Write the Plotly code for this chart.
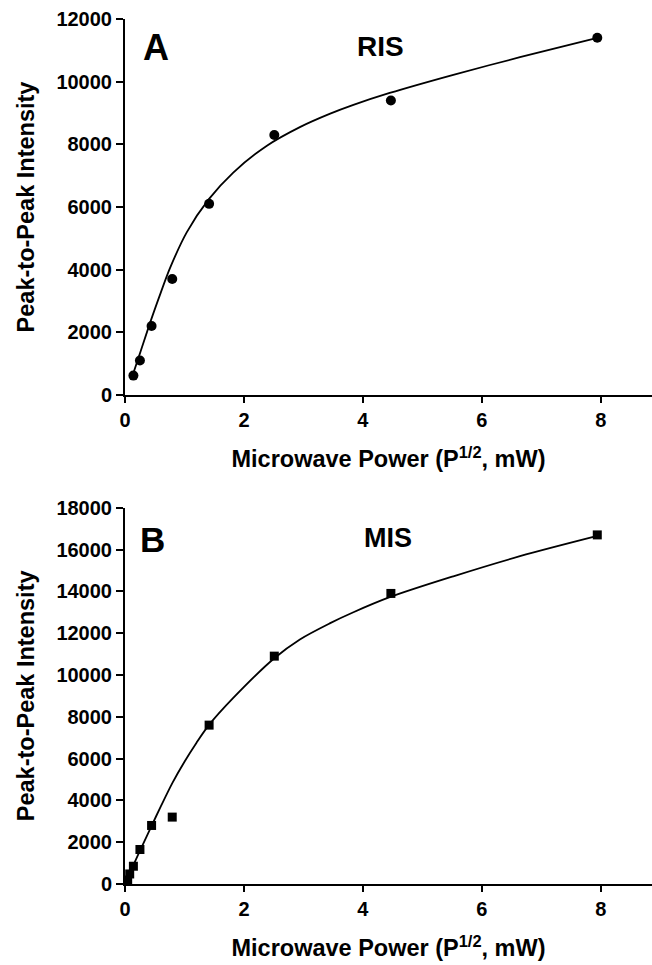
import plotly.graph_objects as go

# Panel A: RIS signal vs. square root of microwave power
ris_power = [0.141, 0.251, 0.447, 0.794, 1.414, 2.51, 4.47, 7.94]
ris_intensity = [620, 1100, 2200, 3700, 6100, 8300, 9400, 11400]
ris_fit_x = [0.141, 0.25, 0.437, 0.6, 0.756, 1.04, 1.41, 1.82, 2.38, 2.94, 3.45, 3.84, 4.45, 5.52, 6.64, 7.94]
ris_fit_y = [700, 1320, 2390, 3260, 4050, 5200, 6250, 7100, 7950, 8550, 8980, 9260, 9640, 10220, 10780, 11400]

# Panel B: MIS signal vs. square root of microwave power
mis_power = [0.045, 0.079, 0.141, 0.251, 0.447, 0.794, 1.414, 2.51, 4.47, 7.94]
mis_intensity = [190, 480, 850, 1650, 2800, 3200, 7600, 10900, 13900, 16700]
mis_fit_x = [0.045, 0.141, 0.25, 0.447, 0.6, 0.8, 1.0, 1.2, 1.41, 1.82, 2.51, 2.94, 3.45, 3.84, 4.45, 5.52, 6.64, 7.94]
mis_fit_y = [290, 900, 1580, 2780, 3700, 4850, 5850, 6750, 7600, 8900, 10800, 11700, 12480, 13000, 13720, 14720, 15680, 16650]

x_ticks = [0, 2, 4, 6, 8]
ris_y_ticks = [0, 2000, 4000, 6000, 8000, 10000, 12000]
mis_y_ticks = [0, 2000, 4000, 6000, 8000, 10000, 12000, 14000, 16000, 18000]

FONT = "Liberation Sans"
BLACK = "#000000"

fig = go.Figure()

fig.add_trace(go.Scatter(x=ris_fit_x, y=ris_fit_y, mode="lines", line=dict(color=BLACK, width=1.8, shape="spline", smoothing=0.9),
                         xaxis="x", yaxis="y", hoverinfo="skip"))
fig.add_trace(go.Scatter(x=ris_power, y=ris_intensity, mode="markers", marker=dict(symbol="circle", size=10, color=BLACK),
                         xaxis="x", yaxis="y"))
fig.add_trace(go.Scatter(x=mis_fit_x, y=mis_fit_y, mode="lines", line=dict(color=BLACK, width=1.8, shape="spline", smoothing=0.9),
                         xaxis="x2", yaxis="y2", hoverinfo="skip"))
fig.add_trace(go.Scatter(x=mis_power, y=mis_intensity, mode="markers", marker=dict(symbol="square", size=9, color=BLACK),
                         xaxis="x2", yaxis="y2"))

x_title = "<b>Microwave Power (P<sup>1/2</sup>, mW)</b>"
y_title = "<b>Peak-to-Peak Intensity</b>"


def bold(values):
    return [f"<b>{v}</b>" for v in values]


def xaxis_style(anchor):
    return dict(
        anchor=anchor, domain=[0, 1], range=[0, 8.86],
        tickmode="array", tickvals=x_ticks, ticktext=bold(x_ticks),
        ticks="outside", ticklen=6, tickwidth=1.5, tickcolor=BLACK,
        showline=True, linewidth=2, linecolor=BLACK, showgrid=False, zeroline=False,
        tickfont=dict(family=FONT, size=20, color=BLACK),
        title=dict(text=x_title, font=dict(family=FONT, size=23.5, color=BLACK), standoff=21),
    )


def yaxis_style(anchor, domain, top, ticks):
    return dict(
        anchor=anchor, domain=domain, range=[0, top],
        tickmode="array", tickvals=ticks, ticktext=bold(ticks),
        ticks="outside", ticklen=7, tickwidth=1.5, tickcolor=BLACK,
        showline=True, linewidth=2, linecolor=BLACK, showgrid=False, zeroline=False,
        tickfont=dict(family=FONT, size=20, color=BLACK),
        title=dict(text=y_title, font=dict(family=FONT, size=23.5, color=BLACK), standoff=15),
    )


fig.update_layout(
    width=652, height=965,
    margin=dict(l=125, r=0, t=19, b=81),
    paper_bgcolor="white", plot_bgcolor="white",
    showlegend=False,
    xaxis=xaxis_style("y"),
    yaxis=yaxis_style("x", [0.5653, 1.0], 12000, ris_y_ticks),
    xaxis2=xaxis_style("y2"),
    yaxis2=yaxis_style("x2", [0.0, 0.435], 18000, mis_y_ticks),
)

labels = [
    ("A", "x", "y", 0.52, 11075, 36),
    ("RIS", "x", "y", 4.30, 11107, 28),
    ("B", "x2", "y2", 0.47, 16460, 35),
    ("MIS", "x2", "y2", 4.42, 16555, 27),
]
for text, xr, yr, xv, yv, size in labels:
    fig.add_annotation(text=f"<b>{text}</b>", x=xv, y=yv, xref=xr, yref=yr, showarrow=False,
                       xanchor="center", yanchor="middle",
                       font=dict(family=FONT, size=size, color=BLACK))

fig.write_html("out.html")
